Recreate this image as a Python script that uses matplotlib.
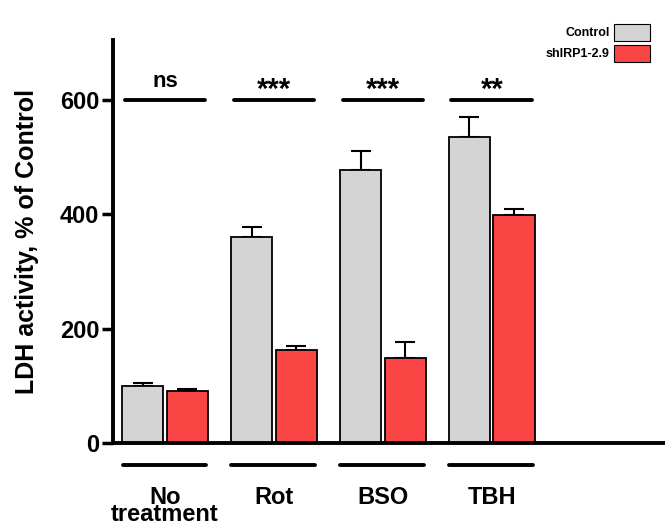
import numpy as np
import matplotlib.pyplot as plt
from matplotlib.patches import Rectangle

plt.rcParams['font.family'] = ['Liberation Sans', 'DejaVu Sans']
plt.rcParams['font.weight'] = 'bold'

groups = ['No\ntreatment', 'Rot', 'BSO', 'TBH']
control = [100, 360, 478, 536]
control_err = [5, 17, 32, 35]
shirp = [90, 163, 148, 398]
shirp_err = [4, 6, 29, 11]
signif = ['ns', '***', '***', '**']

gray = '#d4d4d4'
red = '#f94444'

fig = plt.figure(figsize=(6.65, 5.26), dpi=100)
ax = fig.add_axes([0.170, 0.158, 0.830, 0.766])

x = np.arange(len(groups))
w = 0.38
off = 0.205
ax.bar(x - off, control, w, color=gray, edgecolor='black', linewidth=1.3, zorder=2)
ax.bar(x + off, shirp, w, color=red, edgecolor='black', linewidth=1.3, zorder=2)
ax.errorbar(x - off, control, yerr=[np.zeros(4), control_err], fmt='none',
            ecolor='black', elinewidth=1.5, capsize=7, capthick=1.5, zorder=1)
ax.errorbar(x + off, shirp, yerr=[np.zeros(4), shirp_err], fmt='none',
            ecolor='black', elinewidth=1.5, capsize=7, capthick=1.5, zorder=1)

ax.set_xlim(-0.477, 4.59)
ax.set_ylim(0, 705)
ax.set_yticks([0, 200, 400, 600])
ax.set_xticks([])
ax.tick_params(axis='y', width=2.5, length=8, labelsize=17, pad=2)
for s in ['top', 'right']:
    ax.spines[s].set_visible(False)
for s in ['left', 'bottom']:
    ax.spines[s].set_linewidth(2.8)
ax.set_ylabel('LDH activity, % of Control', fontsize=18, fontweight='bold', labelpad=15)

# significance lines and group lines
for i, txt in enumerate(signif):
    ax.plot([i - 0.37, i + 0.37], [600, 600], color='black', lw=2.8, solid_capstyle='round')
    if txt == 'ns':
        ax.text(i, 623, txt, ha='center', va='baseline', fontsize=16, fontweight='bold')
    else:
        ax.text(i, 603, txt, ha='center', va='baseline', fontsize=21, fontweight='bold')
    ax.plot([i - 0.39, i + 0.38], [-39, -39], color='black', lw=2.8,
            solid_capstyle='round', clip_on=False)
    ax.text(i, -75, groups[i], ha='center', va='top', fontsize=17,
            fontweight='bold', linespacing=0.7)

# legend
for lbl, col, yy in [('Control', gray, 0.922), ('shIRP1-2.9', red, 0.882)]:
    fig.patches.append(Rectangle((0.923, yy), 0.054, 0.032, transform=fig.transFigure,
                                 facecolor=col, edgecolor='black', linewidth=0.8))
    fig.text(0.917, yy + 0.016, lbl, ha='right', va='center', fontsize=9, fontweight='bold')

fig.savefig('out.png', dpi=100)
